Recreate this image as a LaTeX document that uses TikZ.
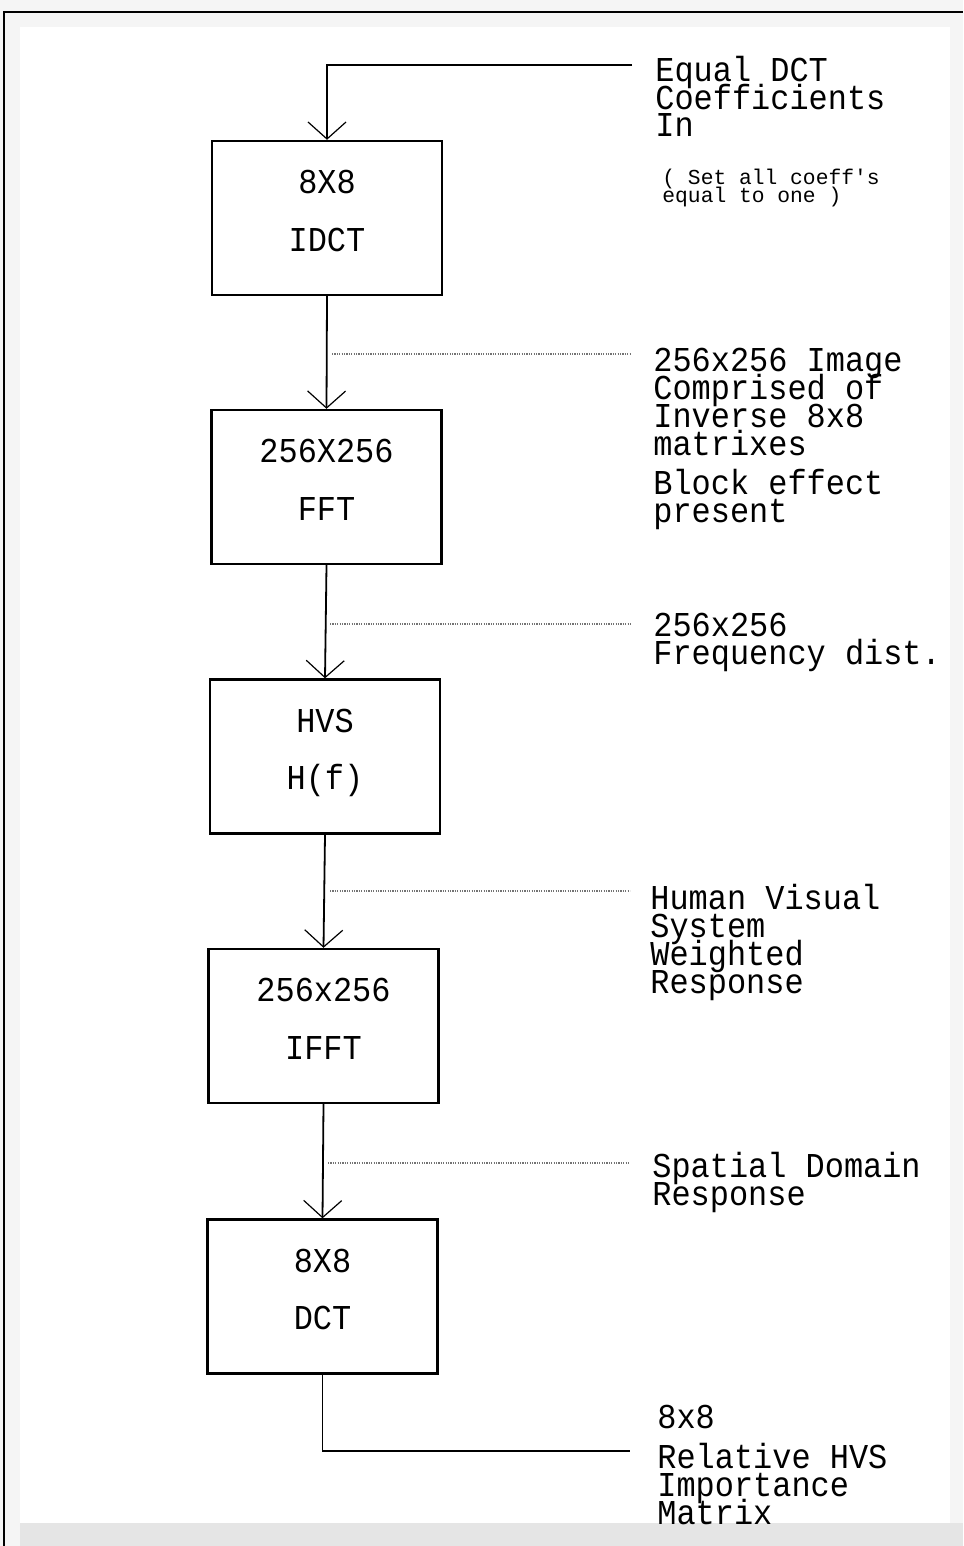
\documentclass[tikz,border=0pt]{standalone}
\usepackage{fontspec}
\newfontfamily\plotfont[FakeStretch=0.915]{Liberation Mono}
\newfontfamily\plotsmallfont{Liberation Mono}
\usetikzlibrary{arrows.meta}
\newcommand\noskiplimit{\lineskiplimit-100pt\relax}
\begin{document}
\noskiplimit
\begin{tikzpicture}[x=0.5pt,y=-0.5pt,
  blockbox/.style={draw, line width=1.2pt, minimum width=115pt, minimum height=77pt,
    inner sep=0pt, align=center,
    font=\plotfont\fontsize{17.45pt}{28.75pt}\selectfont\noskiplimit},
  lbl/.style={inner sep=0pt, anchor=base west, align=left,
    font=\plotfont\fontsize{17.45pt}{14pt}\selectfont\noskiplimit},
  note/.style={inner sep=0pt, anchor=base west, align=left,
    font=\plotsmallfont\fontsize{10.65pt}{9pt}\selectfont\noskiplimit},
  flow/.style={line width=0.9pt, -{Straight Barb[length=8.5pt,width=19pt,line width=0.6pt]}},
  plainline/.style={line width=0.9pt},
  tap/.style={line width=0.7pt, black!55, dash pattern=on 0.6pt off 0.6pt},
  frameline/.style={line width=1.2pt},
]
% page and scan background
\fill[black!4] (0,0) rectangle (963,1546);
\fill[white] (20,27) rectangle (950,1523);
\fill[black!10] (20,1523) rectangle (963,1546);
\useasboundingbox (0,0) rectangle (963,1546);
\draw[frameline] (4,1546) -- (4,12) -- (963,12);

% blocks
\node[blockbox] (b1) at (327,218)    {8X8\\IDCT\rule[-7pt]{0pt}{0pt}};
\node[blockbox] (b2) at (326.5,487)  {256X256\\FFT\rule[-7pt]{0pt}{0pt}};
\node[blockbox] (b3) at (325,756.5)  {HVS\\H(f)\rule[-7pt]{0pt}{0pt}};
\node[blockbox] (b4) at (323.5,1026) {256x256\\IFFT\rule[-7pt]{0pt}{0pt}};
\node[blockbox] (b5) at (322.5,1296.5){8X8\\DCT\rule[-7pt]{0pt}{0pt}};

% labels (anchored at the baseline of their last line)
\node[lbl] (l1) at (655,137) {Equal DCT\\[-0.25pt]Coefficients\\[-0.25pt]In};
\node[note] (n1) at (662,203) {( Set all coeff's\\equal to one )};
\node[lbl] (l2) at (653,522) {256x256 Image\\Comprised of\\Inverse 8x8\\matrixes\\[5.5pt]Block effect\\present};
\node[lbl] (l3) at (653,664) {256x256\\Frequency dist.};
\node[lbl] (l4) at (650,993) {Human Visual\\System\\Weighted\\Response};
\node[lbl] (l5) at (652,1205) {Spatial Domain\\Response};
\node[lbl] (l6) at (657,1524) {8x8\\[6pt]Relative HVS\\Importance\\Matrix};

% input and output
\coordinate (in) at (632,65);
\coordinate (out) at (630,1451);
\draw[flow] (in) -| (b1.north);
\draw[plainline] (b5.south) |- (out);

% flow connectors
\draw[flow] (b1.south) -- (b2.north);
\draw[flow] (b2.south) -- (b3.north);
\draw[flow] (b3.south) -- (b4.north);
\draw[flow] (b4.south) -- (b5.north);

% dotted taps to labels
\coordinate (t1s) at (332,354);  \coordinate (t1e) at (630,354);
\coordinate (t2s) at (330,624);  \coordinate (t2e) at (632,624);
\coordinate (t3s) at (330,891);  \coordinate (t3e) at (630,891);
\coordinate (t4s) at (328,1163); \coordinate (t4e) at (630,1163);
\draw[tap] (t1s) -- (t1e);
\draw[tap] (t2s) -- (t2e);
\draw[tap] (t3s) -- (t3e);
\draw[tap] (t4s) -- (t4e);
\end{tikzpicture}
\end{document}
